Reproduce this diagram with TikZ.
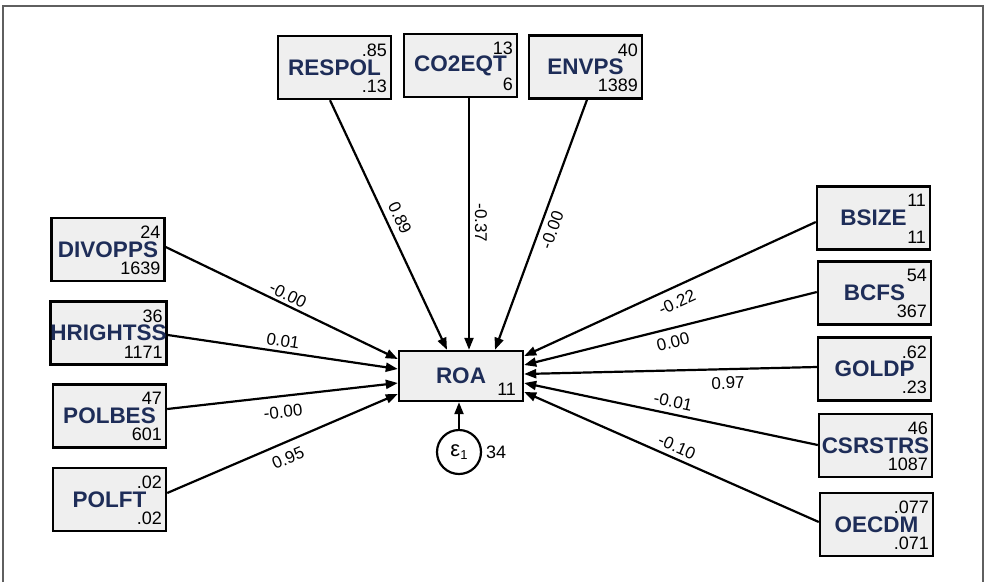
\documentclass[tikz,border=0pt]{standalone}
\usepackage{fontspec}
\setmainfont{Liberation Sans}
\usetikzlibrary{arrows.meta}
\definecolor{varnavy}{RGB}{30,45,88}
\definecolor{boxfill}{RGB}{239,239,239}
\definecolor{framegray}{RGB}{95,95,95}
\tikzset{
  varbox/.style={draw=black, line width=2.4pt, fill=boxfill, minimum width=113pt,
    minimum height=63pt, inner sep=0pt, font=\fontsize{22.5}{22.5}\selectfont\bfseries,
    text=varnavy},
  numtxt/.style={inner sep=0pt, font=\fontsize{18}{18}\selectfont, text=black},
  coef/.style={inner sep=0pt, font=\fontsize{17}{17}\selectfont, text=black},
  path/.style={line width=2.2pt, -{Triangle[length=12pt,width=9pt]}},
}
% Box with the variable name and two small numbers at its right-hand corners
\newcommand{\varnode}[5]{%
  \node[varbox] (#1) at #2 {#3};
  \node[numtxt, anchor=north east] (#1-top) at ([xshift=-5pt,yshift=-9pt]#1.north east) {#4};
  \node[numtxt, anchor=south east] (#1-bot) at ([xshift=-5pt,yshift=7.5pt]#1.south east) {#5};
}
\begin{document}
\begin{tikzpicture}[x=1pt, y=-1pt]
\useasboundingbox (0,0) rectangle (986,582);
% outer frame
\draw[framegray, line width=1.5pt] (3,582) -- (3,6) -- (983,6) -- (983,582);

% outcome
\node[varbox, minimum width=124pt, minimum height=50pt] (roa) at (461,376) {ROA};
\node[numtxt, anchor=south east] (roa-bot) at ([xshift=-8pt,yshift=7pt]roa.south east) {11};

% error term
\node[draw, circle, line width=2.2pt, minimum size=44pt, inner sep=0pt,
      font=\fontsize{22}{22}\selectfont] (eps) at (459,452) {ε\raisebox{-0.15em}{\fontsize{13}{13}\selectfont 1}};
\node[numtxt, anchor=west] (eps-var) at (486,452) {34};

% top predictors
\varnode{respol}{(334.5,67.5)}{RESPOL}{.85}{.13}
\varnode{co2eqt}{(460.5,65.5)}{CO2EQT}{13}{6}
\varnode{envps}{(585.5,67)}{ENVPS}{40}{1389}

% left predictors
\varnode{divopps}{(108,249.5)}{DIVOPPS}{24}{1639}
\varnode{hrightss}{(108.5,333)}{HRIGHTSS}{36}{1171}
\varnode{polbes}{(109.5,416)}{POLBES}{47}{601}
\varnode{polft}{(109.5,499.5)}{POLFT}{.02}{.02}

% right predictors
\varnode{bsize}{(873.5,218)}{BSIZE}{11}{11}
\varnode{bcfs}{(874.5,293)}{BCFS}{54}{367}
\varnode{goldp}{(874.5,369)}{GOLDP}{.62}{.23}
\varnode{csrstrs}{(875.5,445.5)}{CSRSTRS}{46}{1087}
\varnode{oecdm}{(876.5,524.5)}{OECDM}{.077}{.071}

% paths into ROA
\draw[path] ([xshift=-4.5pt]respol.south) -- ([xshift=-14pt]roa.north);
\draw[path] ([xshift=8.5pt]co2eqt.south) -- ([xshift=8pt]roa.north);
\draw[path] ([xshift=1.5pt]envps.south) -- ([xshift=34pt]roa.north);

\draw[path] ([yshift=2.5pt]divopps.east) -- ([yshift=17pt]roa.west);
\draw[path] ([yshift=-2pt]hrightss.east) -- ([yshift=7pt]roa.west);
\draw[path] ([yshift=7pt]polbes.east) -- ([yshift=-7pt]roa.west);
\draw[path] ([yshift=6.5pt]polft.east) -- ([yshift=-18pt]roa.west);

\draw[path] ([yshift=-4pt]bsize.west) -- ([yshift=20pt]roa.east);
\draw[path] ([yshift=1pt]bcfs.west) -- ([yshift=11pt]roa.east);
\draw[path] ([yshift=2pt]goldp.west) -- ([yshift=2pt]roa.east);
\draw[path] ([yshift=0.5pt]csrstrs.west) -- ([yshift=-7pt]roa.east);
\draw[path] ([yshift=2.5pt]oecdm.west) -- ([yshift=-16pt]roa.east);

\draw[path] (eps.north) -- ([xshift=-2pt]roa.south);

% coefficients
\node[coef, rotate=-64.9] (c-respol) at (400,218) {0.89};
\node[coef, rotate=-90] (c-co2eqt) at (481,223) {-0.37};
\node[coef, rotate=69.8] (c-envps) at (552,230) {-0.00};

\node[coef, rotate=-25.9] (c-divopps) at (288,295) {-0.00};
\node[coef, rotate=-8.4] (c-hrightss) at (283,341) {0.01};
\node[coef, rotate=6.4] (c-polbes) at (283,412) {-0.00};
\node[coef, rotate=23.3] (c-polft) at (288,458) {0.95};

\node[coef, rotate=24.5] (c-bsize) at (677,302) {-0.22};
\node[coef, rotate=13.9] (c-bcfs) at (673,342) {0.00};
\node[coef, rotate=1.4] (c-goldp) at (728,383) {0.97};
\node[coef, rotate=-11.9] (c-csrstrs) at (673,402) {-0.01};
\node[coef, rotate=-23.7] (c-oecdm) at (677,447) {-0.10};
\end{tikzpicture}
\end{document}
